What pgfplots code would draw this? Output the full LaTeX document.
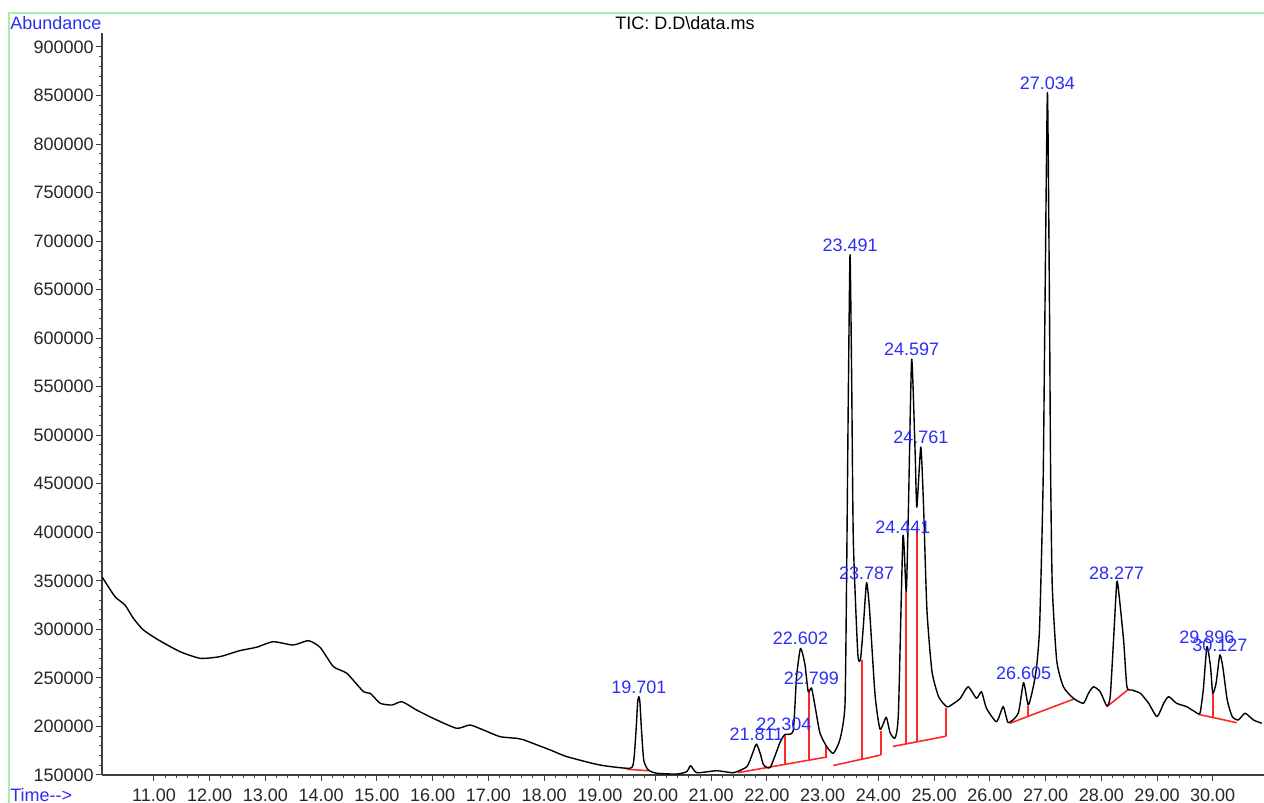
\documentclass[border=0pt]{standalone}
\usepackage{fontspec}
\setmainfont{Liberation Sans}
\usepackage{pgfplots}
\pgfplotsset{compat=1.18}
\definecolor{pkblue}{RGB}{45,45,250}
\definecolor{blred}{RGB}{255,40,40}
\definecolor{frm}{RGB}{165,240,165}
\tikzset{lab/.style={anchor=south, inner sep=0pt, yshift=1.5pt, text=pkblue, font=\fontsize{9}{10}\selectfont}}
\pgfplotstableread{
t v
10.07 354000
10.30 333700
10.48 325100
10.63 311400
10.81 299400
11.08 289100
11.47 277000
11.83 270200
12.18 271900
12.54 278100
12.84 281600
13.14 287300
13.50 283900
13.77 288400
13.98 281600
14.22 261600
14.46 254800
14.76 235800
14.88 234200
15.06 223900
15.27 222100
15.45 225500
15.71 217000
16.01 208400
16.43 198100
16.67 201500
16.91 196400
17.21 189500
17.51 187800
17.62 186500
18.11 175800
18.41 168900
19.00 160300
19.54 156900
19.61 165000
19.65 195000
19.68 225000
19.701 230700
19.72 225000
19.75 195000
19.79 165000
19.87 155200
20.02 151800
20.38 151000
20.56 153400
20.63 159600
20.74 152400
21.10 154400
21.40 152400
21.64 158600
21.74 172000
21.811 181900
21.88 172000
21.94 160300
22.06 157900
22.23 182900
22.32 191700
22.47 195300
22.53 250200
22.602 280400
22.68 264500
22.74 236100
22.799 239600
22.86 221900
22.95 193500
23.07 179400
23.19 172300
23.31 186500
23.40 221900
23.43 356700
23.46 540000
23.491 686000
23.52 560000
23.55 392200
23.63 275100
23.68 269800
23.73 303500
23.787 348000
23.84 321200
23.94 232500
24.03 197100
24.14 209400
24.21 193500
24.30 188200
24.36 214800
24.441 395700
24.50 338900
24.54 427600
24.597 578400
24.66 480900
24.69 425900
24.761 487900
24.81 427600
24.87 321200
24.96 257300
25.08 230800
25.23 220200
25.35 223700
25.47 229000
25.61 240900
25.76 229000
25.85 235800
25.94 218700
26.12 204900
26.24 220400
26.33 203900
26.51 213600
26.605 245100
26.69 222100
26.78 240900
26.84 262000
26.89 298000
26.93 382000
26.96 466100
26.99 634300
27.034 853000
27.07 634300
27.09 466100
27.12 345000
27.20 268000
27.32 240900
27.50 229000
27.68 223900
27.77 234200
27.86 240900
27.98 235800
28.10 221100
28.16 230700
28.22 289100
28.277 348100
28.31 340000
28.40 289100
28.46 240900
28.55 237600
28.70 234200
28.85 223900
29.00 210100
29.12 223900
29.21 230700
29.35 223900
29.53 220400
29.68 215200
29.77 213600
29.83 237600
29.896 282200
29.96 261600
30.00 234200
30.06 244500
30.127 273600
30.18 261600
30.26 227300
30.35 210100
30.46 206700
30.58 213600
30.73 206700
30.88 203300
}\tic
\begin{document}
\begin{tikzpicture}
\path[use as bounding box] (-51pt,-14pt) rectangle (581pt,387.5pt);
\draw[frm, line width=1pt] (-46.5pt,-14pt) -- (-46.5pt,381pt) -- (581pt,381pt);
\begin{axis}[
  scale only axis, width=581pt, height=371pt,
  xmin=10.067, xmax=30.92, ymin=150000, ymax=914400,
  axis x line*=bottom, axis y line*=left,
  axis line style={draw=black!75, line width=0.7pt, -},
  xtick={11,12,...,30},
  xticklabels={11.00,12.00,13.00,14.00,15.00,16.00,17.00,18.00,19.00,20.00,21.00,22.00,23.00,24.00,25.00,26.00,27.00,28.00,29.00,30.00},
  minor x tick num=4,
  ytick={150000,200000,...,900000},
  yticklabels={150000,200000,250000,300000,350000,400000,450000,500000,550000,600000,650000,700000,750000,800000,850000,900000},
  minor y tick num=4,
  tick align=outside,
  major tick length=3pt, minor tick length=1.5pt,
  tick style={black!75, line width=0.5pt},
  scaled y ticks=false,
  tick label style={font=\fontsize{9}{10}\selectfont, text=black!85},
  xticklabel style={inner sep=0pt, anchor=north, yshift=-4pt},
  yticklabel style={inner sep=0pt, anchor=east, xshift=-1pt},
  every axis plot/.append style={sharp plot},
]
\addplot[draw=blred, line width=0.8pt] coordinates {(19.48,155900) (19.87,154400)};
\addplot[draw=blred, line width=0.8pt] coordinates {(21.48,152400) (23.08,168600)};
\addplot[draw=blred, line width=1pt] coordinates {(22.32,160900) (22.32,191700)};
\addplot[draw=blred, line width=1pt] coordinates {(22.76,165400) (22.76,236100)};
\addplot[draw=blred, line width=1pt] coordinates {(23.06,168400) (23.06,181100)};
\addplot[draw=blred, line width=0.8pt] coordinates {(23.19,159800) (24.04,170500)};
\addplot[draw=blred, line width=1pt] coordinates {(23.70,166200) (23.70,268100)};
\addplot[draw=blred, line width=1pt] coordinates {(24.04,170500) (24.04,195000)};
\addplot[draw=blred, line width=0.8pt] coordinates {(24.26,179400) (25.22,190000)};
\addplot[draw=blred, line width=1pt] coordinates {(24.49,181900) (24.49,338900)};
\addplot[draw=blred, line width=1pt] coordinates {(24.70,184300) (24.70,405000)};
\addplot[draw=blred, line width=1pt] coordinates {(25.22,190000) (25.22,219000)};
\addplot[draw=blred, line width=0.8pt] coordinates {(26.36,203300) (27.51,228300)};
\addplot[draw=blred, line width=1pt] coordinates {(26.69,210800) (26.69,221400)};
\addplot[draw=blred, line width=0.8pt] coordinates {(28.10,220400) (28.49,238300)};
\addplot[draw=blred, line width=0.8pt] coordinates {(29.74,212500) (30.43,203900)};
\addplot[draw=blred, line width=1pt] coordinates {(30.01,210100) (30.01,233400)};
\addplot[black, line width=0.7pt, line join=round, smooth, tension=0.35] table[x=t, y=v] {\tic};
\node[lab] at (axis cs:19.701,230700) {19.701};
\node[lab] at (axis cs:21.811,181900) {21.811};
\node[lab] at (axis cs:22.304,191700) {22.304};
\node[lab] at (axis cs:22.602,280400) {22.602};
\node[lab] at (axis cs:22.799,239600) {22.799};
\node[lab] at (axis cs:23.491,686000) {23.491};
\node[lab] at (axis cs:23.787,348000) {23.787};
\node[lab] at (axis cs:24.441,395700) {24.441};
\node[lab] at (axis cs:24.597,578400) {24.597};
\node[lab] at (axis cs:24.761,487900) {24.761};
\node[lab] at (axis cs:26.605,245100) {26.605};
\node[lab] at (axis cs:27.034,853000) {27.034};
\node[lab] at (axis cs:28.277,348100) {28.277};
\node[lab] at (axis cs:29.896,282200) {29.896};
\node[lab] at (axis cs:30.127,273600) {30.127};
\end{axis}
\node[anchor=west, inner sep=0pt, text=pkblue, font=\fontsize{9}{10}\selectfont] at (-46pt,376pt) {Abundance};
\node[anchor=west, inner sep=0pt, text=pkblue, font=\fontsize{9}{10}\selectfont] at (-46pt,-10pt) {Time-{}-{}>};
\node[inner sep=0pt, font=\fontsize{9}{10}\selectfont] at (291.5pt,376pt) {TIC: D.D\textbackslash data.ms};
\end{tikzpicture}
\end{document}
